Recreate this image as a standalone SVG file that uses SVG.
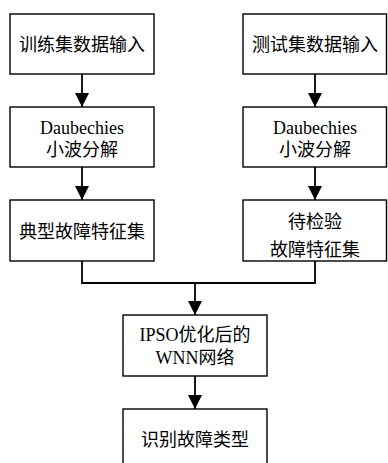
<svg xmlns="http://www.w3.org/2000/svg" width="388" height="463" viewBox="0 0 388 463">
<style>
.box{fill:#fff;stroke:#000;stroke-width:1.4}
.t{font-family:"Liberation Serif","Noto Sans CJK SC",serif;font-size:18px;fill:#000;text-anchor:middle}
.ln{fill:none;stroke:#000;stroke-width:1.8}
</style>
<defs>
<marker id="ah" markerUnits="userSpaceOnUse" markerWidth="14" markerHeight="14" refX="14" refY="7" orient="auto" viewBox="0 0 14 14">
<path d="M0,0 L14,7 L0,14 Z" fill="#000"/>
</marker>
</defs>
<g id="connectors">
<line class="ln" x1="82" y1="74" x2="82" y2="107" marker-end="url(#ah)"/>
<line class="ln" x1="82" y1="167" x2="82" y2="200" marker-end="url(#ah)"/>
<line class="ln" x1="315" y1="74" x2="315" y2="107" marker-end="url(#ah)"/>
<line class="ln" x1="315" y1="167" x2="315" y2="200" marker-end="url(#ah)"/>
<polyline class="ln" points="82,261 82,283 315,283 315,261"/>
<line class="ln" x1="195" y1="283" x2="195" y2="315" marker-end="url(#ah)"/>
<line class="ln" x1="195" y1="376" x2="195" y2="409" marker-end="url(#ah)"/>
</g>
<g id="n1"><rect class="box" x="10" y="14" width="144" height="60"/><text class="t" x="82" y="51">训练集数据输入</text></g>
<g id="n2"><rect class="box" x="10" y="107" width="144" height="60"/><text class="t" x="82" y="134">Daubechies</text><text class="t" x="82" y="156">小波分解</text></g>
<g id="n3"><rect class="box" x="10" y="200" width="144" height="61"/><text class="t" x="82" y="238">典型故障特征集</text></g>
<g id="n4"><rect class="box" x="243" y="14" width="143.5" height="60"/><text class="t" x="315" y="51">测试集数据输入</text></g>
<g id="n5"><rect class="box" x="243" y="107" width="143.5" height="60"/><text class="t" x="315" y="134">Daubechies</text><text class="t" x="315" y="156">小波分解</text></g>
<g id="n6"><rect class="box" x="243" y="200" width="143.5" height="61"/><text class="t" x="315" y="228">待检验</text><text class="t" x="315" y="256">故障特征集</text></g>
<g id="n7"><rect class="box" x="123" y="315" width="144" height="61"/><text class="t" x="195" y="341">IPSO优化后的</text><text class="t" x="195" y="364">WNN网络</text></g>
<g id="n8"><rect class="box" x="123" y="409" width="144" height="62"/><text class="t" x="195" y="446">识别故障类型</text></g>
</svg>
